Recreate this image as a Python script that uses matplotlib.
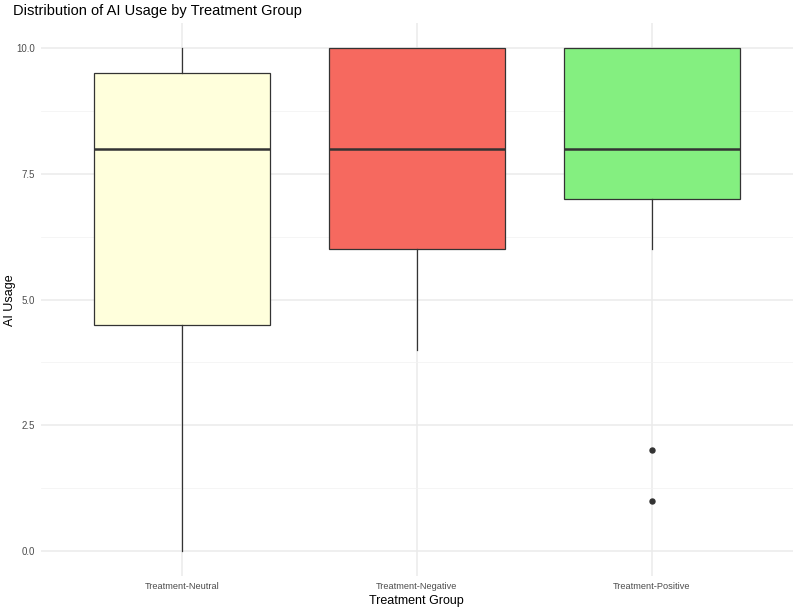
import numpy as np
import matplotlib
matplotlib.use("Agg")
import matplotlib.pyplot as plt
from matplotlib.ticker import MultipleLocator, FormatStrFormatter

plt.rcParams['font.family'] = ['Liberation Sans', 'DejaVu Sans']

# Data (box statistics)
groups = ['Treatment-Neutral', 'Treatment-Negative', 'Treatment-Positive']
whisker_low = [0, 4, 6]
q1 = [4.5, 6, 7]
median = [8, 8, 8]
q3 = [9.5, 10, 10]
whisker_high = [10, 10, 10]
outliers = [[], [], [2, 1]]

colors = ['#FFFFDC', '#F6695F', '#84EF80']

stats = []
for i, g in enumerate(groups):
    stats.append(dict(label=g, whislo=whisker_low[i], q1=q1[i], med=median[i],
                      q3=q3[i], whishi=whisker_high[i], fliers=outliers[i]))

fig = plt.figure(figsize=(8, 6.09), dpi=100)
ax = fig.add_axes([0.051, 0.054, 0.940, 0.908])

positions = np.arange(1, len(groups) + 1)
bp = ax.bxp(stats, positions=positions, widths=0.75, patch_artist=True,
            showcaps=False, zorder=3,
            boxprops=dict(edgecolor='#333333', linewidth=0.9),
            medianprops=dict(color='#333333', linewidth=1.8),
            whiskerprops=dict(color='#333333', linewidth=0.9),
            flierprops=dict(marker='o', markerfacecolor='#333333',
                            markeredgecolor='#333333', markersize=3.6))
for patch, c in zip(bp['boxes'], colors):
    patch.set_facecolor(c)

ax.set_xlim(0.4, 3.6)
ax.set_ylim(-0.5, 10.5)
ax.set_xticks(positions)
ax.set_xticklabels(groups)
ax.yaxis.set_major_locator(MultipleLocator(2.5))
ax.yaxis.set_minor_locator(MultipleLocator(1.25))
ax.yaxis.set_major_formatter(FormatStrFormatter('%.1f'))

ax.grid(which='major', color='#EBEBEB', linewidth=1.1, zorder=0)
ax.grid(which='minor', axis='y', color='#F2F2F2', linewidth=0.55, zorder=0)
ax.set_axisbelow(True)
for s in ax.spines.values():
    s.set_visible(False)
ax.tick_params(which='both', length=0, labelsize=7, labelcolor='#4D4D4D', pad=4)
ax.tick_params(axis='x', labelsize=6.7)

ax.set_xlabel('Treatment Group', fontsize=9, labelpad=3)
fig.text(10 / 800, 1 - 300 / 609, 'AI Usage', rotation=90, fontsize=9,
         ha='center', va='center')
ax.set_title('Distribution of AI Usage by Treatment Group', fontsize=10.5,
             loc='left', x=-0.037, pad=6)

fig.savefig('out.png', dpi=100)
